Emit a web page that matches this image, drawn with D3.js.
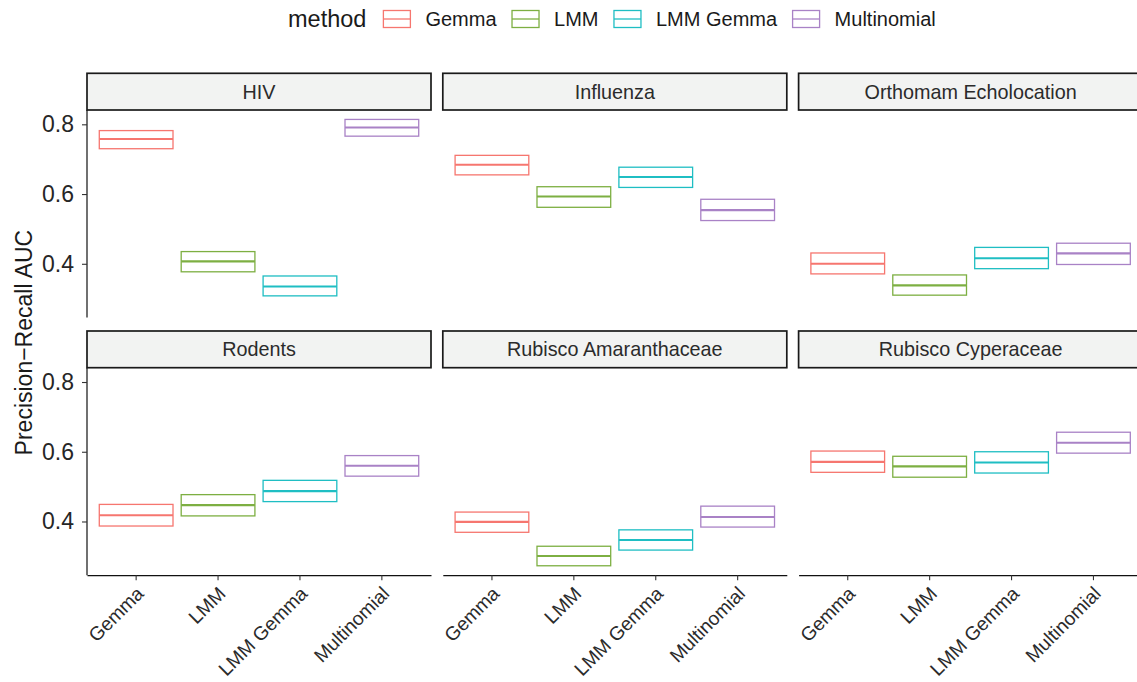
<!DOCTYPE html>
<html>
<head>
<meta charset="utf-8">
<script src="https://cdn.jsdelivr.net/npm/d3@7"></script>
<style>
  html, body { margin: 0; padding: 0; background: #ffffff; }
  svg { display: block; font-family: "Liberation Sans", Arial, Helvetica, sans-serif; }
</style>
</head>
<body>
<svg id="chart" width="1137" height="682"></svg>
<script>
// Facets (datasets) in display order, 3 per row
const datasets = ["HIV", "Influenza", "Orthomam Echolocation",
                  "Rodents", "Rubisco Amaranthaceae", "Rubisco Cyperaceae"];
const methods = ["Gemma", "LMM", "LMM Gemma", "Multinomial"];
const methodColors = ["#F6766F", "#7DAF42", "#1FBEC3", "#A982C6"];

// Precision-Recall AUC per dataset (rows) and method (columns)
const meanAUC = [
  [0.758, 0.407, 0.335, 0.791],
  [0.684, 0.593, 0.649, 0.554],
  [0.400, 0.338, 0.416, 0.430],
  [0.418, 0.447, 0.487, 0.560],
  [0.399, 0.301, 0.347, 0.413],
  [0.571, 0.558, 0.569, 0.626]
];
const lowerAUC = [
  [0.730, 0.377, 0.308, 0.766],
  [0.655, 0.562, 0.619, 0.524],
  [0.371, 0.310, 0.386, 0.398],
  [0.387, 0.416, 0.457, 0.530],
  [0.369, 0.273, 0.318, 0.384],
  [0.541, 0.527, 0.539, 0.596]
];
const upperAUC = [
  [0.782, 0.435, 0.365, 0.814],
  [0.711, 0.621, 0.677, 0.585],
  [0.431, 0.368, 0.447, 0.459],
  [0.449, 0.477, 0.518, 0.589],
  [0.427, 0.329, 0.376, 0.444],
  [0.602, 0.587, 0.600, 0.656]
];
const yTicks = [0.4, 0.6, 0.8];
const yTitle = "Precision\u2212Recall AUC";
const legendTitle = "method";

// ---- layout ----
const svg = d3.select("#chart");
const nCol = 3;
const panelLeft = 87;
const panelW = 344;
const colGap = 11.8;
const stripH = 36.7;
const panelH = 207.5;
const rowTops = [73.3, 331];      // top of each strip row

const rows = datasets.map((d, i) => ({
  name: d,
  index: i,
  col: i % nCol,
  row: Math.floor(i / nCol),
  recs: methods.map((m, j) => ({
    method: m, color: methodColors[j],
    mean: meanAUC[i][j], lo: lowerAUC[i][j], hi: upperAUC[i][j]
  }))
}));

// shared y scale (fixed scales across facets, 5% expansion)
const allLo = d3.min(lowerAUC.flat());
const allHi = d3.max(upperAUC.flat());
const pad = (allHi - allLo) * 0.05;
const yDomain = [allLo - pad, allHi + pad];

const x = d3.scaleBand()
  .domain(methods)
  .range([0, panelW])
  .paddingInner(0.1)
  .paddingOuter(0.15);

const panels = svg.selectAll("g.facet")
  .data(rows)
  .join("g")
  .attr("class", "facet")
  .attr("transform", d => `translate(${panelLeft + d.col * (panelW + colGap)},${rowTops[d.row]})`);

// strip
panels.append("rect")
  .attr("x", 0).attr("y", 0)
  .attr("width", panelW).attr("height", stripH)
  .attr("fill", "#F2F3F2")
  .attr("stroke", "#1a1a1a")
  .attr("stroke-width", 1.7);

panels.append("text")
  .attr("x", panelW / 2)
  .attr("y", stripH / 2)
  .attr("dy", "0.35em")
  .attr("text-anchor", "middle")
  .attr("font-size", 19.8)
  .attr("fill", "#2b2b2b")
  .text(d => d.name);

// plotting area of each facet
panels.each(function(d) {
  const g = d3.select(this).append("g").attr("transform", `translate(0,${stripH})`);
  const y = d3.scaleLinear().domain(yDomain).range([panelH, 0]);

  // crossbars: box from lower to upper, thick line at the mean
  const bars = g.selectAll("g.bar").data(d.recs).join("g").attr("class", "bar");
  bars.append("rect")
    .attr("x", r => x(r.method))
    .attr("width", x.bandwidth())
    .attr("y", r => y(r.hi))
    .attr("height", r => y(r.lo) - y(r.hi))
    .attr("fill", "none")
    .attr("stroke", r => r.color)
    .attr("stroke-width", 1.3);
  bars.append("line")
    .attr("x1", r => x(r.method))
    .attr("x2", r => x(r.method) + x.bandwidth())
    .attr("y1", r => y(r.mean))
    .attr("y2", r => y(r.mean))
    .attr("stroke", r => r.color)
    .attr("stroke-width", 2.1);

  // y axis on the first column
  if (d.col === 0) {
    const ya = g.append("g")
      .call(d3.axisLeft(y).tickValues(yTicks).tickSize(5).tickPadding(8).tickFormat(d3.format(".1f")));
    ya.select(".domain").attr("d", `M0,0V${panelH}`).attr("stroke", "#111").attr("stroke-width", 1.2);
    ya.selectAll(".tick line").attr("stroke", "#333").attr("stroke-width", 1.1);
    ya.selectAll(".tick text")
      .attr("font-size", 23)
      .attr("font-family", "Liberation Sans, Arial, sans-serif")
      .attr("fill", "#262626");
  }

  // x axis on the bottom row
  if (d.row === 1) {
    const xa = g.append("g")
      .attr("transform", `translate(0,${panelH})`)
      .call(d3.axisBottom(x).tickSize(5).tickSizeOuter(0));
    xa.select(".domain").attr("stroke", "#111").attr("stroke-width", 1.2);
    xa.selectAll(".tick line").attr("stroke", "#333").attr("stroke-width", 1.1);
    xa.selectAll(".tick text")
      .attr("font-size", 19.2)
      .attr("font-family", "Liberation Sans, Arial, sans-serif")
      .attr("fill", "#2b2b2b")
      .attr("text-anchor", "end")
      .attr("dy", "0.71em")
      .attr("transform", "translate(-1,10) rotate(-45)")
      .attr("y", 0);
  }
});

// y axis title, centred on the panel rows
const panelsTop = rowTops[0] + stripH;
const panelsBottom = rowTops[1] + stripH + panelH;
svg.append("text")
  .attr("transform", `translate(32,${(panelsTop + panelsBottom) / 2}) rotate(-90)`)
  .attr("text-anchor", "middle")
  .attr("font-size", 23)
  .attr("fill", "#1a1a1a")
  .text(yTitle);

// legend across the top
const legend = svg.append("g").attr("class", "legend");
const legendY = 19;
const titleEl = legend.append("text")
  .attr("x", 288).attr("y", legendY).attr("dy", "0.35em")
  .attr("font-size", 23.5)
  .attr("fill", "#1a1a1a")
  .text(legendTitle);
let cursor = 288 + titleEl.node().getComputedTextLength() + 17;
const keyW = 27, keyH = 17;
methods.forEach((m, j) => {
  const item = legend.append("g").attr("transform", `translate(${cursor},${legendY})`);
  item.append("rect")
    .attr("x", 0).attr("y", -keyH / 2)
    .attr("width", keyW).attr("height", keyH)
    .attr("fill", "none")
    .attr("stroke", methodColors[j])
    .attr("stroke-width", 1.3);
  item.append("line")
    .attr("x1", 0).attr("x2", keyW)
    .attr("y1", 0).attr("y2", 0)
    .attr("stroke", methodColors[j])
    .attr("stroke-width", 1.3);
  const t = item.append("text")
    .attr("x", keyW + 15).attr("y", 0).attr("dy", "0.35em")
    .attr("font-size", 20)
    .attr("fill", "#1a1a1a")
    .text(m);
  cursor += keyW + 15 + t.node().getComputedTextLength() + 15.5;
});
</script>
</body>
</html>
